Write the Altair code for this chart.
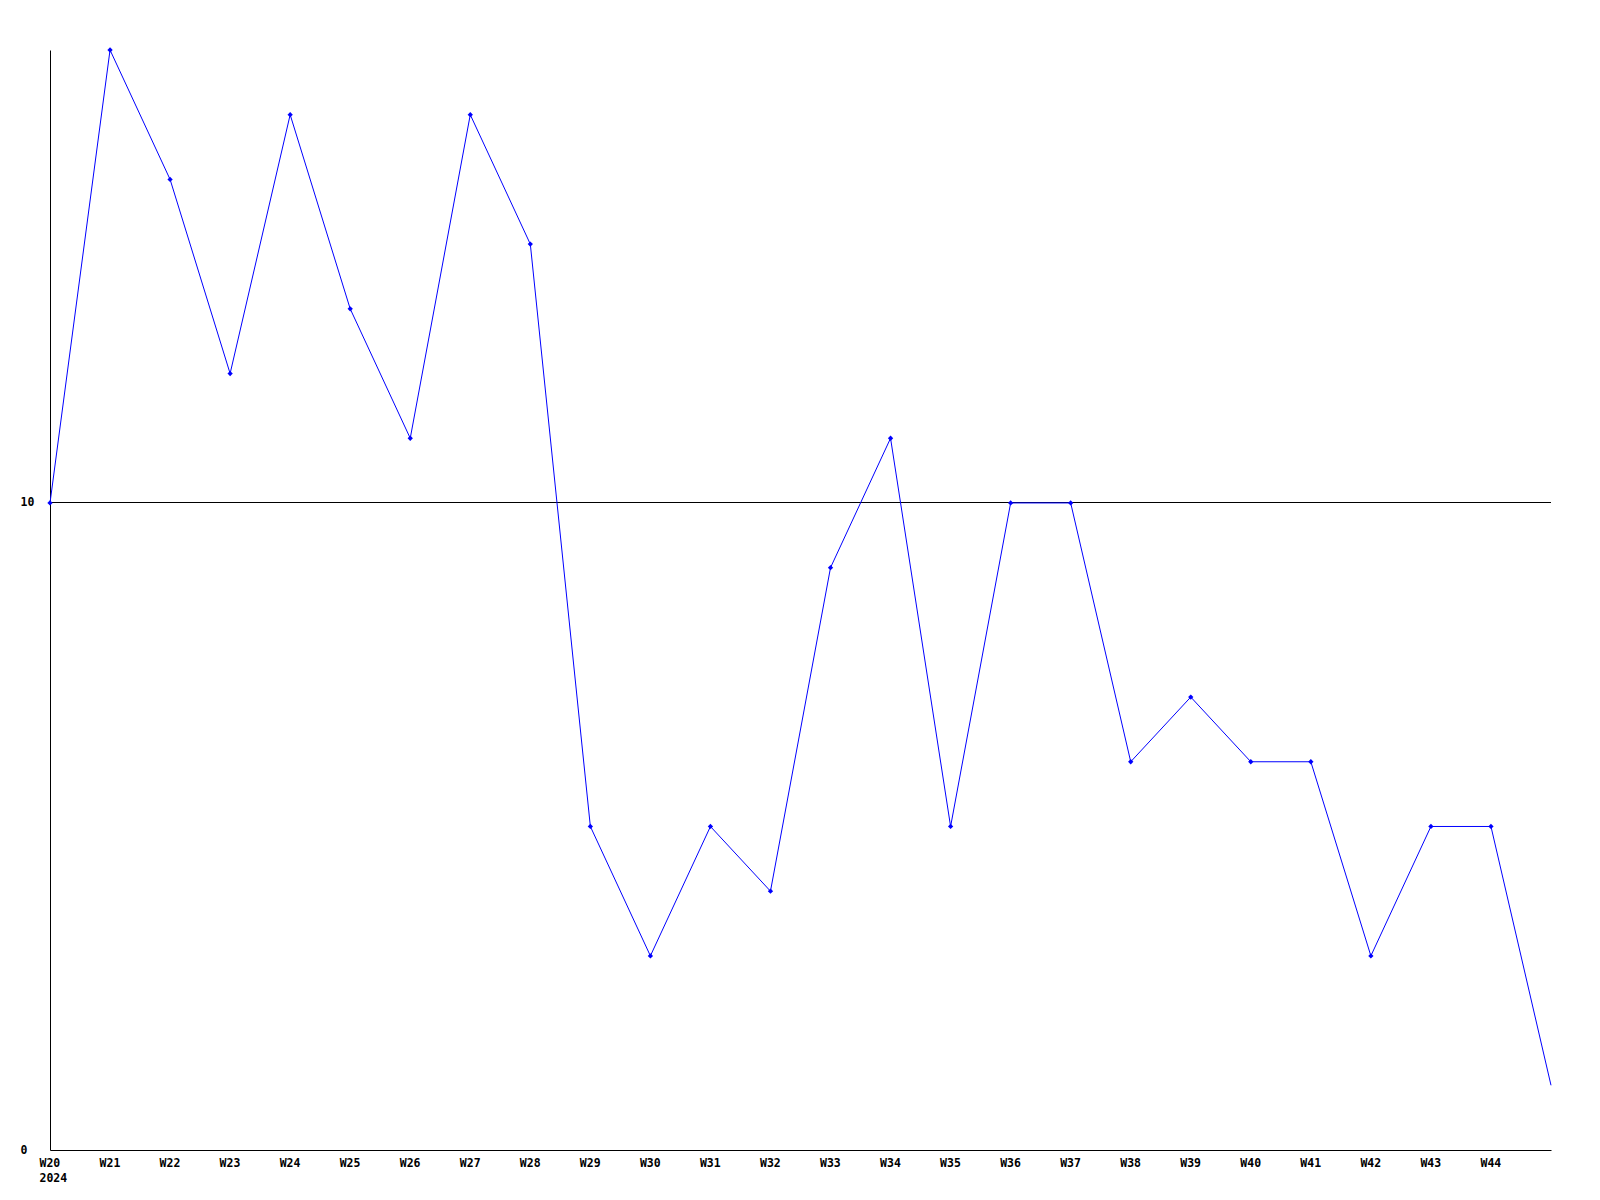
import altair as alt
import pandas as pd

weeks = list(range(20, 46))
values = [10, 17, 15, 12, 16, 13, 11, 16, 14, 5, 3, 5, 4, 9, 11, 5, 10, 10, 6, 7, 6, 6, 3, 5, 5, 1]
marker_weeks = list(range(20, 45))

df = pd.DataFrame({"idx": [w - 20 for w in weeks], "week": weeks, "value": values})
df["marker"] = df["week"].isin(marker_weeks)

FONT = "DejaVu Sans Mono"

x_enc = alt.X(
    "idx:Q",
    scale=alt.Scale(domain=[0, 25], nice=False, zero=False),
    axis=alt.Axis(
        title=None,
        values=list(range(0, 25)),
        labelExpr="datum.value == 0 ? ['W20', '2024'] : 'W' + (datum.value + 20)",
        labelFont=FONT,
        labelFontWeight="bold",
        labelFontSize=11.5,
        labelColor="black",
        labelAlign="left",
        labelOffset=-11,
        labelBaseline="top",
        labelPadding=7,
        labelLineHeight=15,
        labelOverlap=False,
        labelFlush=False,
        labelBound=False,
        ticks=False,
        grid=False,
        domainColor="black",
        domainWidth=1,
    ),
)
y_enc = alt.Y(
    "value:Q",
    scale=alt.Scale(domain=[0, 17], nice=False),
    axis=alt.Axis(
        title=None,
        values=[0, 10],
        format="d",
        labelFont=FONT,
        labelFontWeight="bold",
        labelFontSize=11.5,
        labelColor="black",
        labelAlign="left",
        labelBaseline="middle",
        labelPadding=30,
        ticks=False,
        grid=False,
        domainColor="black",
        domainWidth=1,
    ),
)

base = alt.Chart(df)

rule = alt.Chart(pd.DataFrame({"y": [10]})).mark_rule(
    color="black", strokeWidth=1, yOffset=-0.44
).encode(
    y=alt.Y("y:Q", scale=alt.Scale(domain=[0, 17], nice=False))
)

line = base.mark_line(color="#0000ff", strokeWidth=1).encode(x=x_enc, y=y_enc)
points = base.transform_filter("datum.marker").mark_point(
    shape="diamond", filled=True, color="#0000ff", size=28, opacity=1
).encode(x=x_enc, y=y_enc)

chart = (
    alt.layer(rule, line, points)
    .properties(
        width=1501,
        height=1100,
        padding={"left": 42, "top": 42, "right": 30, "bottom": 40},
        autosize=alt.AutoSizeParams(type="none"),
        background="white",
    )
    .configure_view(stroke=None)
)

chart.save("out.html", embed_options={"renderer": "svg", "actions": False})
